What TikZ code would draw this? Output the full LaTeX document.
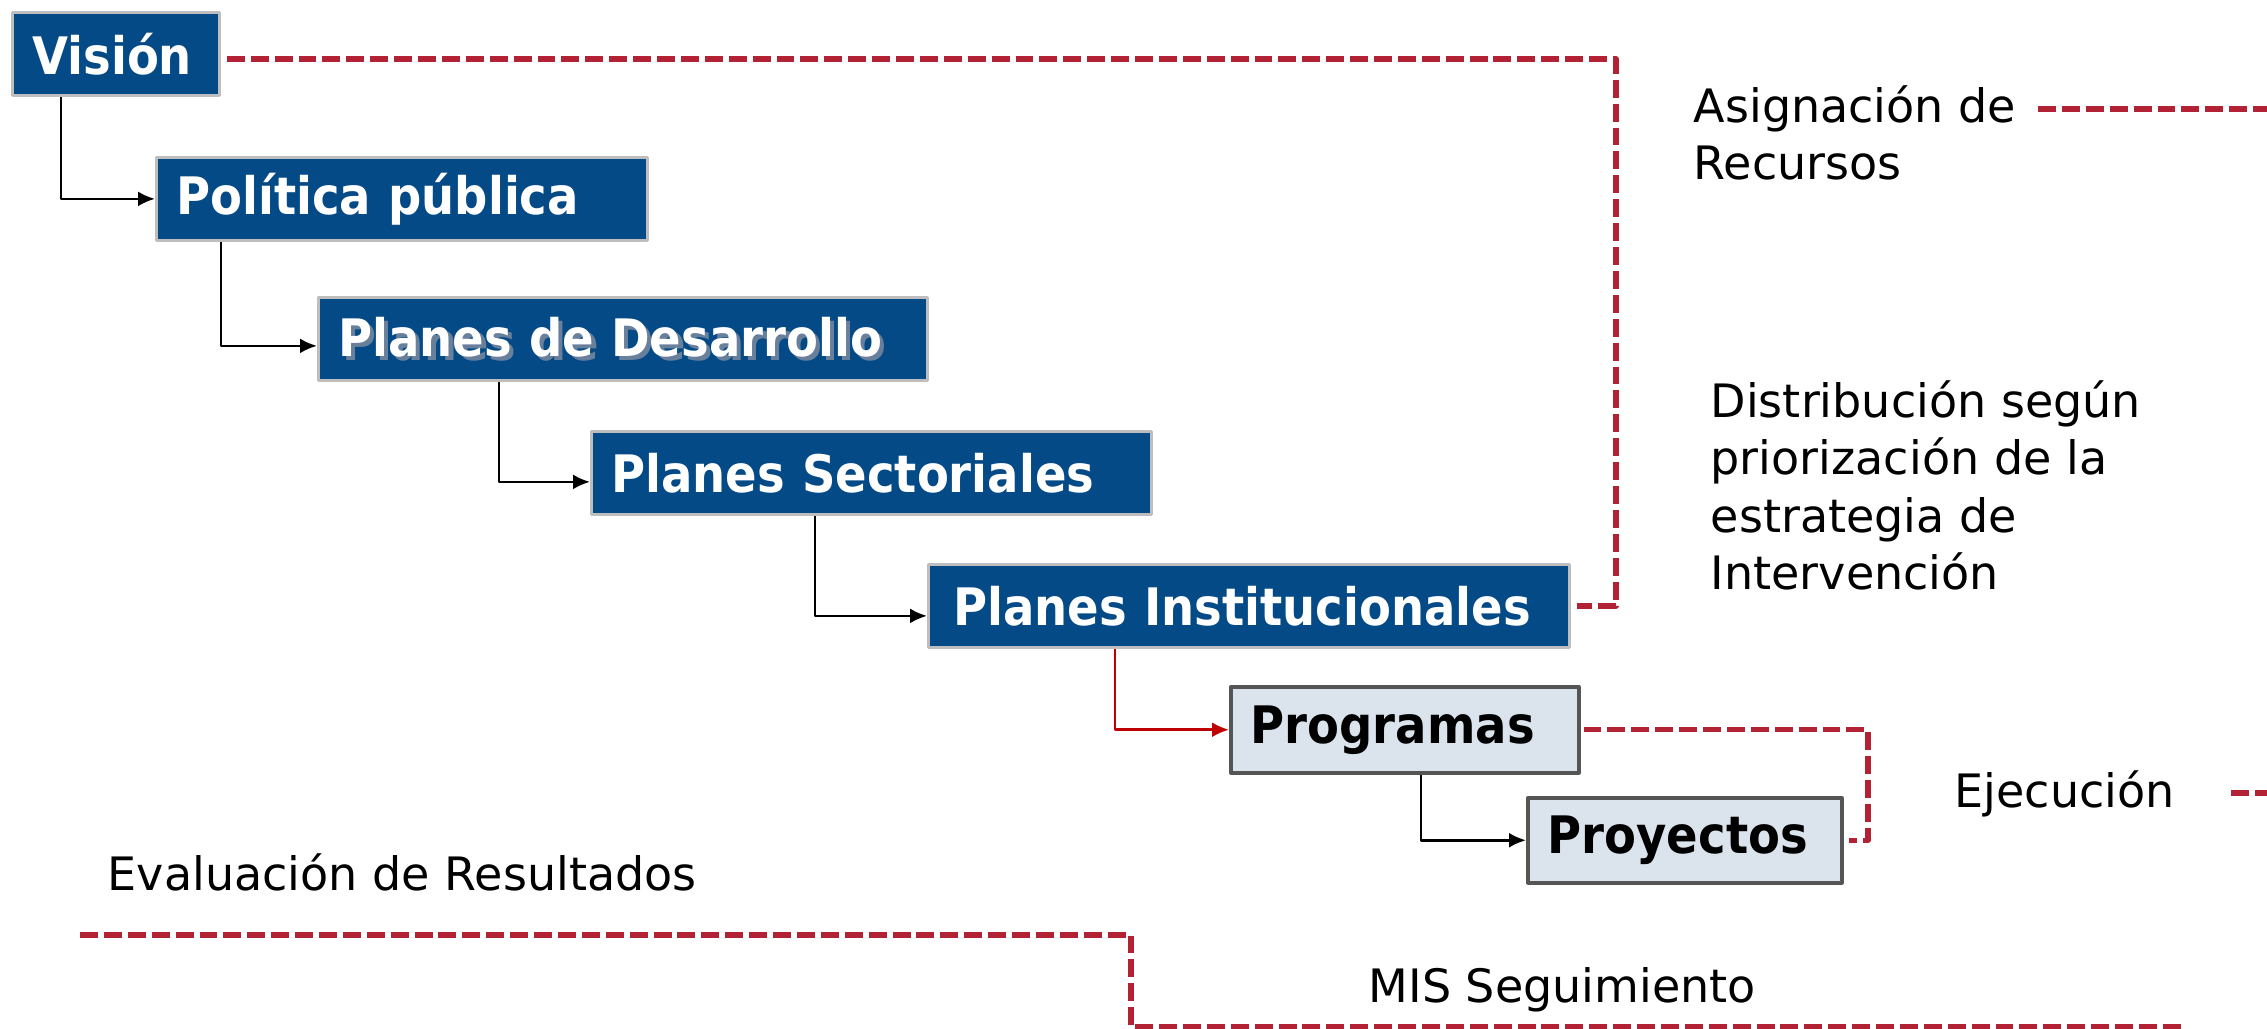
\documentclass[tikz,border=0pt]{standalone}
\usepackage{fontspec}
\setmainfont{DejaVu Sans}
\newfontfamily\cajafont{DejaVu Sans Condensed}
\usetikzlibrary{arrows.meta}
\definecolor{azulcaja}{RGB}{4,74,134}
\definecolor{grisborde}{RGB}{190,190,190}
\definecolor{celeste}{RGB}{219,228,237}
\definecolor{grisoscuro}{RGB}{85,85,85}
\definecolor{rojotrazo}{RGB}{178,34,52}
\definecolor{rojoflecha}{RGB}{192,0,0}
\definecolor{sombra}{RGB}{104,128,156}
\newcommand\sombratexto[1]{\makebox[0pt][l]{\hspace{0.045cm}\raisebox{-0.04cm}{\textcolor{sombra}{#1}}}#1}
\begin{document}
\begin{tikzpicture}[line join=round, >={Latex[length=1.7mm,width=1.5mm]},
	caja/.style={draw=grisborde, line width=0.8pt, fill=azulcaja, text=white, anchor=north west,
		minimum height=0.83cm, inner xsep=0.2cm, align=left, font=\cajafont\bfseries\fontsize{14.7}{18}\selectfont},
	cajaclara/.style={caja, draw=grisoscuro, line width=1pt, fill=celeste, text=black, minimum height=0.86cm},
	conector/.style={->, line width=0.75pt},
	trazo/.style={draw=rojotrazo, line width=1.5pt, dash pattern=on 5.1pt off 1.7pt},
	etiqueta/.style={inner sep=0pt, align=left, font=\fontsize{13.1}{16.3}\selectfont}]
	\useasboundingbox (0,0) rectangle (22.67,-10.29);
	% Cajas
	\node[caja, text width=1.67cm] (vision) at (0.11,-0.11) {Visión};
	\node[caja, text width=4.51cm] (pol) at (1.55,-1.56) {Política pública};
	\node[caja, text width=5.69cm] (pdd) at (3.17,-2.96) {\sombratexto{Planes de Desarrollo}};
	\node[caja, text width=5.20cm] (ps) at (5.90,-4.30) {Planes Sectoriales};
	\node[caja, text width=5.91cm, inner xsep=0.25cm] (pi) at (9.27,-5.63) {Planes Institucionales};
	\node[cajaclara, text width=3.08cm] (prog) at (12.29,-6.85) {Programas};
	\node[cajaclara, text width=2.74cm, minimum height=0.85cm] (proy) at (15.26,-7.96) {Proyectos};
	% Conectores
	\draw[conector] ([xshift=0.50cm]vision.south west) |- (pol.west);
	\draw[conector] ([xshift=0.66cm]pol.south west) |- ([yshift=-0.07cm]pdd.west);
	\draw[conector] ([xshift=1.82cm]pdd.south west) |- ([yshift=-0.09cm]ps.west);
	\draw[conector] ([xshift=2.25cm]ps.south west) |- ([yshift=-0.1cm]pi.west);
	\draw[conector, rojoflecha] ([xshift=1.88cm]pi.south west) |- (prog.west);
	\draw[conector] ([xshift=1.92cm]prog.south west) |- (proy.west);
	% Textos
	\node[etiqueta, anchor=north west] (asig) at (16.93,-0.85) {Asignación de\\Recursos};
	\node[etiqueta, anchor=north west] (dist) at (17.10,-3.80) {Distribución según\\priorización de la\\estrategia de\\Intervención};
	\node[etiqueta, anchor=base west] (ejec) at (19.54,-8.08) {Ejecución};
	\node[etiqueta, anchor=base west] (eval) at (1.07,-8.91) {Evaluación de Resultados};
	\node[etiqueta, anchor=base west] (mis) at (13.68,-10.03) {MIS Seguimiento};
	% Trazos punteados
	\coordinate (esqA) at (16.16,-0.58);
	\coordinate (esqB) at (18.68,-7.28);
	\coordinate (evalIni) at (0.80,-9.35);
	\coordinate (esqC) at (11.31,-10.27);
	\coordinate (misFin) at (21.83,-10.27);
	\coordinate (asigIni) at (20.38,-1.09);
	\coordinate (asigFin) at (22.70,-1.09);
	\coordinate (ejecIni) at (22.31,-7.93);
	\coordinate (ejecFin) at (22.70,-7.93);
	\draw[trazo] ([shift={(0.06cm,-0.05cm)}]vision.east) -- ([yshift=-0.05cm]vision.east -| esqA) -- (pi.east -| esqA) -- ([xshift=0.06cm]pi.east);
	\draw[trazo] ([xshift=0.03cm]prog.east) -- (prog.east -| esqB) -- (proy.east -| esqB) -- ([xshift=0.05cm]proy.east);
	\draw[trazo] (evalIni) -| (esqC) -- (misFin);
	\draw[trazo] (asigIni) -- (asigFin);
	\draw[trazo] (ejecIni) -- (ejecFin);
\end{tikzpicture}
\end{document}
